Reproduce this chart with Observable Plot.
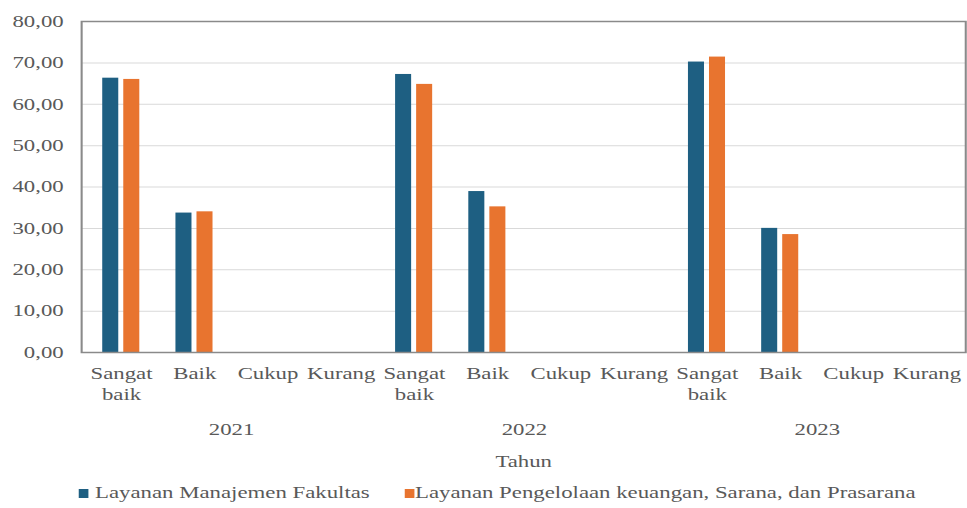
<!DOCTYPE html>
<html>
<head>
<meta charset="utf-8">
<script src="https://cdn.jsdelivr.net/npm/d3@7"></script>
<script src="https://cdn.jsdelivr.net/npm/@observablehq/plot@0.6"></script>
<style>
  html, body { margin: 0; padding: 0; background: #fff; }
  #wrap { width: 967px; height: 508px; overflow: hidden; position: relative; }
  #legend { position: relative; width: 700px; height: 33px; transform: scaleX(1.3814); transform-origin: 0 0;
            font-family: "Liberation Serif", serif; font-size: 16.5px; color: #595959; }
  #legend .sw { position: absolute; top: 14px; width: 7px; height: 9px; }
  #legend .lb { position: absolute; top: 8px; white-space: nowrap; line-height: 20px; }
</style>
</head>
<body>
<div id="wrap"></div>
<script>
const years = ["2021", "2022", "2023"];
const categories = ["Sangat baik", "Baik", "Cukup", "Kurang"];
const seriesNames = ["Layanan Manajemen Fakultas", "Layanan Pengelolaan keuangan, Sarana, dan Prasarana"];
const seriesColors = ["#1e5f82", "#e8742f"];
// values in order: year x category
const manajemen   = [66.3, 33.7, 0, 0,  67.2, 38.9, 0, 0,  70.2, 30.0, 0, 0];
const pengelolaan = [66.0, 34.0, 0, 0,  64.8, 35.2, 0, 0,  71.4, 28.5, 0, 0];
const yTicks = [0, 10, 20, 30, 40, 50, 60, 70, 80];

const rows = [];
years.forEach((yr, i) => categories.forEach((c, j) => {
  rows.push({key: yr + "|" + c, year: yr, cat: c, a: manajemen[i * 4 + j], b: pengelolaan[i * 4 + j]});
}));
const keys = rows.map(d => d.key);

const W = 700, H = 475;
const mL = 58.6, mR = 1.4;
const step = (W - mL - mR) / keys.length;
const fmt = v => d3.format(".2f")(v).replace(".", ",");

const chart = Plot.plot({
  width: W, height: H,
  marginLeft: mL, marginRight: mR, marginTop: 21, marginBottom: H - 352,
  style: {fontFamily: "Liberation Serif, serif", fontSize: "16.5px", color: "#595959", background: "white"},
  x: {domain: keys, padding: 0, axis: null, label: null},
  y: {domain: [0, 80], axis: null, label: null},
  marks: [
    Plot.gridY(yTicks.filter(t => t > 0 && t < 80), {stroke: "#d9d9d9", strokeOpacity: 1}),
    Plot.barY(rows, {x: "key", y: "a", fill: seriesColors[0], insetLeft: 13.0, insetRight: step - 13.0 - 11.94}),
    Plot.barY(rows, {x: "key", y: "b", fill: seriesColors[1], insetLeft: 28.23, insetRight: step - 28.23 - 11.94}),
    Plot.frame({stroke: "#8a8a8a", strokeWidth: 1.5}),
    Plot.axisY({ticks: yTicks, tickSize: 0, tickPadding: 13, tickFormat: fmt, fill: "#595959", label: null}),
    Plot.axisX({tickSize: 0, tickPadding: 12, lineHeight: 1.25, fill: "#595959", label: null,
                tickFormat: d => d.split("|")[1].replace(" ", "\n")}),
    Plot.text(years, {x: d => d + "|Baik", dx: step / 2, frameAnchor: "bottom", dy: 82, text: d => d, fill: "#595959"}),
    Plot.text(["Tahun"], {frameAnchor: "bottom", dy: 114, text: d => d, fill: "#595959"})
  ]
});

chart.setAttribute("preserveAspectRatio", "none");
chart.setAttribute("width", 967);
chart.setAttribute("height", H);
chart.style.width = "967px";
chart.style.height = H + "px";
chart.style.maxWidth = "none";
chart.style.display = "block";

const wrap = document.getElementById("wrap");
wrap.appendChild(chart);

const legend = document.createElement("div");
legend.id = "legend";
const legendPos = [[56.5, 68.8], [292.5, 300.4]];
seriesNames.forEach((name, i) => {
  const sw = document.createElement("div");
  sw.className = "sw";
  sw.style.left = legendPos[i][0] + "px";
  sw.style.background = seriesColors[i];
  const lb = document.createElement("div");
  lb.className = "lb";
  lb.style.left = legendPos[i][1] + "px";
  lb.textContent = name;
  legend.appendChild(sw);
  legend.appendChild(lb);
});
wrap.appendChild(legend);
</script>
</body>
</html>
